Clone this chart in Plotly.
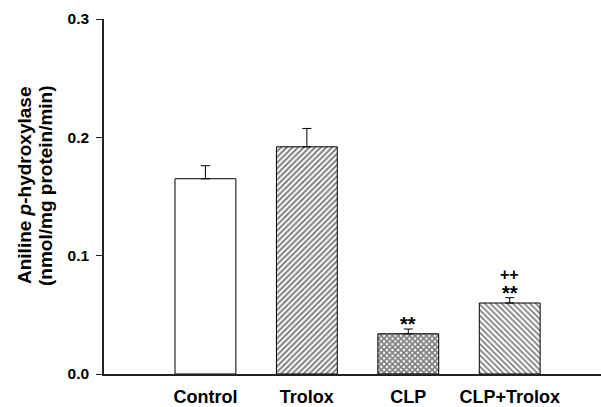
import plotly.graph_objects as go

categories = ["Control", "Trolox", "CLP", "CLP+Trolox"]
values = [0.165, 0.192, 0.034, 0.060]
errors = [0.011, 0.0155, 0.004, 0.0045]
sig_star = ["", "", "**", "**"]
sig_plus = ["", "", "", "++"]
y_ticks = [0.0, 0.1, 0.2, 0.3]
y_tick_labels = ["0.0", "0.1", "0.2", "0.3"]
y_title_lines = ["<b>Aniline <i>p</i>-hydroxylase</b>", "<b>(nmol/mg protein/min)</b>"]

patterns = ["", "/", "x", "\\"]
FONT = "Arial, Liberation Sans, Helvetica, sans-serif"

W, H = 601, 407
L, R, T, B = 104, 0, 19, 33
PW = W - L - R
PH = H - T - B

fig = go.Figure()
fig.add_trace(go.Bar(
    x=list(range(len(categories))),
    y=values,
    width=0.6,
    marker=dict(
        color="white",
        line=dict(color="black", width=1),
        pattern=dict(shape=patterns, size=4, solidity=[0.3, 0.5, 0.7, 0.45],
                     fgcolor="black", bgcolor="white"),
    ),
    error_y=dict(type="data", array=errors, arrayminus=[0]*len(errors), symmetric=False,
                 color="black", thickness=1, width=4.5),
    showlegend=False,
))

for i, (v, e, s, p) in enumerate(zip(values, errors, sig_star, sig_plus)):
    if s:
        fig.add_annotation(x=i, y=v + e, text="<b>" + s + "</b>", showarrow=False,
                           yanchor="middle", yshift=5,
                           font=dict(family=FONT, size=20, color="black"))
    if p:
        fig.add_annotation(x=i, y=v + e, text="<b>" + p + "</b>", showarrow=False,
                           yanchor="middle", yshift=23,
                           font=dict(family=FONT, size=16, color="black"))

# y-axis title as two rotated lines
title_x_px = [24, 45]
title_y_px = 186
for txt, xp in zip(y_title_lines, title_x_px):
    fig.add_annotation(xref="paper", yref="paper",
                       x=(xp - L) / PW, y=(H - B - title_y_px) / PH,
                       xanchor="center", yanchor="middle",
                       text=txt, textangle=-90, showarrow=False,
                       font=dict(family=FONT, size=19, color="black"))

fig.update_layout(
    width=W, height=H,
    margin=dict(l=L, r=R, t=T, b=B),
    paper_bgcolor="white", plot_bgcolor="white",
    font=dict(family=FONT, color="black"),
    xaxis=dict(
        range=[-1, 3.9],
        tickmode="array",
        tickvals=list(range(len(categories))),
        ticktext=["<b>" + c + "</b>" for c in categories],
        tickfont=dict(size=18),
        ticklabelstandoff=6,
        ticks="", showgrid=False, zeroline=False,
        showline=True, linecolor="#222", linewidth=1.5,
    ),
    yaxis=dict(
        range=[0, 0.3],
        tickmode="array",
        tickvals=y_ticks,
        ticktext=["<b>" + t + "</b>" for t in y_tick_labels],
        tickfont=dict(size=15.5),
        ticks="outside", ticklen=6, tickwidth=1.2, tickcolor="#222",
        ticklabelstandoff=4,
        showgrid=False, zeroline=False,
        showline=True, linecolor="#222", linewidth=1.5,
    ),
)

fig.write_html("out.html")
